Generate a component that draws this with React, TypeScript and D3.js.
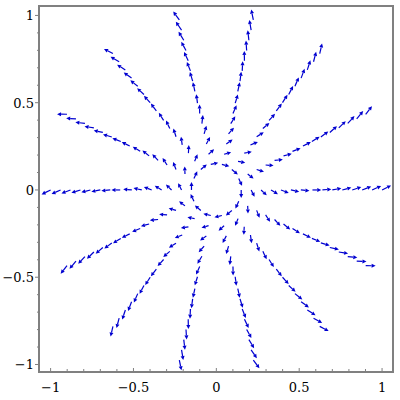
import React from "react";
import * as d3 from "d3";

// Ray directions (degrees) of the polar sampling grid
const rayAngles = [0, 25.7, 51.4, 77.1, 102.9, 128.6, 154.3, 180, 205.7, 231.4, 257.1, 282.9, 308.6, 334.3];
// Radii of the sample rings
const ringRadii = [0.15, 0.21, 0.27, 0.33, 0.39, 0.45, 0.51, 0.58, 0.64, 0.7, 0.76, 0.82, 0.88, 0.94, 1.0];
// Arrow direction relative to the outward radial direction at each ring (degrees)
const ringTurn = [-90, -62, -42, -30, -20, -12, -5, 0, 5, 10, 14, 17, 20, 23, 25];
// Arrow length at each ring (data units)
const ringLength = [0.046, 0.044, 0.046, 0.048, 0.05, 0.051, 0.052, 0.053, 0.054, 0.055, 0.056, 0.057, 0.058, 0.059, 0.06];

const majorTicks = [-1, -0.5, 0, 0.5, 1];
const minorTicks = [-1, -0.9, -0.8, -0.7, -0.6, -0.5, -0.4, -0.3, -0.2, -0.1, 0, 0.1, 0.2, 0.3, 0.4, 0.5, 0.6, 0.7, 0.8, 0.9, 1];
const tickLabels = ["\u22121", "\u22120.5", "0", "0.5", "1"];

const W = 400;
const H = 400;
const L = 39, R = 393, T = 6, B = 372;

export default function App() {
  const x = d3.scaleLinear().domain([-1.07, 1.066]).range([L, R]);
  const y = d3.scaleLinear().domain([-1.043, 1.054]).range([B, T]);

  const arrows: { x1: number; y1: number; x2: number; y2: number; head: string }[] = [];
  rayAngles.forEach((a) => {
    ringRadii.forEach((r, i) => {
      const ar = (a * Math.PI) / 180;
      const tx = r * Math.cos(ar);
      const ty = r * Math.sin(ar);
      const d = ((a + ringTurn[i]) * Math.PI) / 180;
      const hx = tx + ringLength[i] * Math.cos(d);
      const hy = ty + ringLength[i] * Math.sin(d);
      const x1 = x(tx), y1 = y(ty), x2 = x(hx), y2 = y(hy);
      const dx = x2 - x1, dy = y2 - y1;
      const len = Math.hypot(dx, dy) || 1;
      const ux = dx / len, uy = dy / len;
      const hl = 4, hw = 2;
      const bx = x2 - ux * hl, by = y2 - uy * hl;
      const p = d3.path();
      p.moveTo(x2, y2);
      p.lineTo(bx - uy * hw, by + ux * hw);
      p.lineTo(bx + uy * hw, by - ux * hw);
      p.closePath();
      arrows.push({ x1, y1, x2: bx, y2: by, head: p.toString() });
    });
  });

  const axisColor = "#808080";

  return (
    <svg width={W} height={H} style={{ position: "absolute", left: 0, top: 0, background: "#fff" }}>
      <rect x={0} y={0} width={W} height={H} fill="#fff" />
      <g>
        {arrows.map((a, i) => (
          <g key={i}>
            <line x1={a.x1} y1={a.y1} x2={a.x2} y2={a.y2} stroke="#0000d0" strokeWidth={1.2} />
            <path d={a.head} fill="#0000d0" stroke="none" />
          </g>
        ))}
      </g>
      {/* frame */}
      <rect x={L} y={T} width={R - L} height={B - T} fill="none" stroke={axisColor} strokeWidth={2} />
      {/* bottom ticks */}
      {minorTicks.map((t, i) => {
        const major = majorTicks.some((m) => Math.abs(m - t) < 1e-9);
        return (
          <line key={"bx" + i} x1={x(t)} x2={x(t)} y1={B} y2={B - (major ? 4 : 3)} stroke={axisColor} strokeWidth={1} />
        );
      })}
      {/* left ticks */}
      {minorTicks.map((t, i) => {
        const major = majorTicks.some((m) => Math.abs(m - t) < 1e-9);
        return (
          <line key={"ly" + i} x1={L} x2={L - (major ? 4 : 2)} y1={y(t)} y2={y(t)} stroke={axisColor} strokeWidth={1} />
        );
      })}
      <g fontFamily="DejaVu Serif" fontSize={13} fill="#000">
        {majorTicks.map((t, i) => (
          <text key={"xl" + i} x={x(t)} y={392} textAnchor="middle">
            {tickLabels[i]}
          </text>
        ))}
        {majorTicks.map((t, i) => (
          <text key={"yl" + i} x={34} y={y(t) + 5} textAnchor="end">
            {tickLabels[i]}
          </text>
        ))}
      </g>
    </svg>
  );
}
